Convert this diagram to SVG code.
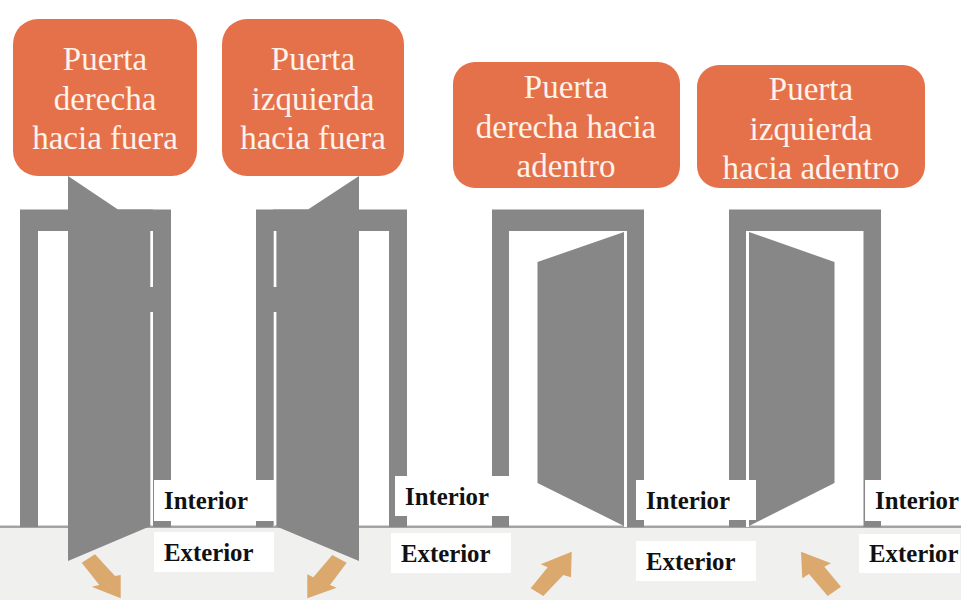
<svg xmlns="http://www.w3.org/2000/svg" width="965" height="600" viewBox="0 0 965 600">
<style>
.g{fill:#878787}
.w{fill:#fff}
.a{fill:#dba86e}
.b{fill:#e5714a}
.t{font-family:"Liberation Serif","Times New Roman",serif;font-size:33px;fill:#fdf3ea;text-anchor:middle}
.l{font-family:"Liberation Serif","Times New Roman",serif;font-size:24.800px;font-weight:bold;fill:#111}
</style>
<rect class="w" width="965" height="600"/>
<rect x="0" y="528" width="961" height="72" fill="#f0f0ef"/>
<rect x="0" y="525.500" width="961" height="2.500" fill="#a3a3a3"/>
<g id="door1">
<path class="g" fill-rule="evenodd" d="M20 209.500H171V527H153V231H38V527H20Z"/>
<path class="g" d="M68 176L118 209.500H153V525L68 561Z"/>
<rect class="w" x="150.300" y="231" width="2.700" height="56"/>
<rect class="w" x="150.300" y="312" width="2.700" height="213.500"/>
<path class="a" d="M81.700 562.700L95 554.300L115 576L120.700 575V598.300L91.700 586.700L99.300 585Z"/>
</g>
<g id="door2">
<path class="g" fill-rule="evenodd" d="M256 209.500H407V527H389V231H273V527H256Z"/>
<path class="g" d="M359 176L308 209.500H273V525L359 561Z"/>
<rect class="w" x="273.700" y="231" width="2.700" height="56"/>
<rect class="w" x="273.700" y="312" width="2.700" height="213.500"/>
<path class="a" d="M332.300 555L346.700 562.700L330 585L336.700 587.700L307.300 598.300V574.300L313.300 577.300Z"/>
</g>
<g id="door3">
<path class="g" fill-rule="evenodd" d="M492 209.500H644V527H627V231H509V527H492Z"/>
<path class="g" d="M537.500 262L624 232V526L537.500 483Z"/>
<rect class="w" x="624" y="232" width="3" height="55"/>
<rect class="w" x="624" y="314" width="3" height="213"/>
<path class="a" d="M571.700 551.700L571 577.300L563.300 575L543.300 596L530.700 588.300L547.700 567.300L540.700 564.300Z"/>
</g>
<g id="door4">
<path class="g" fill-rule="evenodd" d="M729 209.500H881V527H863.500V231H746V527H729Z"/>
<path class="g" d="M749 232L834.500 262V483L749 526Z"/>
<rect class="w" x="746" y="232" width="3" height="55"/>
<rect class="w" x="746" y="314" width="3" height="213"/>
<path class="a" d="M801 551.700L831 563.300L824.300 566.700L841 586.700L827.700 596L809 574L802.300 578.300Z"/>
</g>
<g id="labels">
<rect class="w" x="154" y="480" width="120" height="41"/>
<rect class="w" x="154" y="532" width="120" height="40"/>
<rect class="w" x="395" y="476" width="115" height="40"/>
<rect class="w" x="391" y="533" width="120" height="40"/>
<rect class="w" x="636" y="480" width="120" height="40"/>
<rect class="w" x="636" y="541" width="120" height="40"/>
<rect class="w" x="865" y="480" width="95" height="41"/>
<rect class="w" x="859" y="534" width="101" height="39"/>
<text class="l" x="164" y="509">Interior</text>
<text class="l" x="164" y="561">Exterior</text>
<text class="l" x="405" y="505">Interior</text>
<text class="l" x="401" y="562">Exterior</text>
<text class="l" x="646" y="509">Interior</text>
<text class="l" x="646" y="570">Exterior</text>
<text class="l" x="875" y="509">Interior</text>
<text class="l" x="869" y="562">Exterior</text>
</g>
<g id="bubble1"><rect class="b" x="13" y="19" width="184" height="157" rx="25"/>
<text class="t" x="105" y="70">Puerta</text><text class="t" x="105" y="110">derecha</text><text class="t" x="105" y="149">hacia fuera</text></g>
<g id="bubble2"><rect class="b" x="222" y="19" width="182" height="157" rx="25"/>
<text class="t" x="313" y="70">Puerta</text><text class="t" x="313" y="110">izquierda</text><text class="t" x="313" y="149">hacia fuera</text></g>
<g id="bubble3"><rect class="b" x="453" y="62" width="227" height="126" rx="22"/>
<text class="t" x="566" y="98">Puerta</text><text class="t" x="566" y="138">derecha hacia</text><text class="t" x="566" y="177">adentro</text></g>
<g id="bubble4"><rect class="b" x="697" y="65" width="228" height="123" rx="22"/>
<text class="t" x="811" y="100">Puerta</text><text class="t" x="811" y="140">izquierda</text><text class="t" x="811" y="179">hacia adentro</text></g>
</svg>
